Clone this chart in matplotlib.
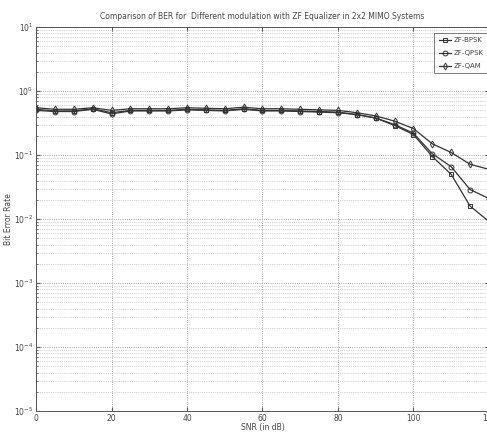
import matplotlib
matplotlib.use('Agg')
import matplotlib.pyplot as plt
from matplotlib.ticker import LogLocator, FixedLocator

# SNR points (dB) and BER values
snr = [0, 5, 10, 15, 20, 25, 30, 35, 40, 45, 50, 55, 60, 65, 70, 75, 80,
       85, 90, 95, 100, 105, 110, 115, 120]
ber_bpsk = [0.52, 0.49, 0.49, 0.53, 0.46, 0.50, 0.50, 0.50, 0.52, 0.51, 0.50, 0.53, 0.50,
            0.50, 0.49, 0.48, 0.47, 0.43, 0.38, 0.29, 0.21, 0.095, 0.050, 0.016, 0.0092]
ber_qpsk = [0.50, 0.48, 0.48, 0.52, 0.44, 0.49, 0.49, 0.49, 0.51, 0.50, 0.49, 0.52, 0.49,
            0.49, 0.48, 0.47, 0.46, 0.43, 0.38, 0.30, 0.22, 0.105, 0.066, 0.029, 0.021]
ber_qam = [0.55, 0.52, 0.52, 0.55, 0.50, 0.53, 0.53, 0.53, 0.55, 0.54, 0.53, 0.56, 0.53,
           0.53, 0.52, 0.51, 0.50, 0.46, 0.41, 0.34, 0.26, 0.15, 0.11, 0.072, 0.060]

x_ticks = [0, 20, 40, 60, 80, 100, 120]
x_ticklabels = ['0', '20', '40', '60', '80', '100', '120']

plt.rcParams['font.family'] = ['Liberation Sans Narrow', 'DejaVu Sans']

fig = plt.figure(figsize=(4.87, 4.37), dpi=100)
fig.patch.set_facecolor('white')
ax = fig.add_axes([0.074, 0.059, 0.930, 0.879])

txt = '#444444'
ax.semilogy(snr, ber_bpsk, '-s', color='#333333', lw=0.9, ms=3.5, mfc='none', mew=0.7, label='ZF-BPSK')
ax.semilogy(snr, ber_qpsk, '-o', color='#333333', lw=0.9, ms=3.5, mfc='none', mew=0.7, label='ZF-QPSK')
ax.semilogy(snr, ber_qam, '-d', color='#333333', lw=0.9, ms=3.5, mfc='none', mew=0.7, label='ZF-QAM')

ax.set_xlim(0, 120)
ax.set_ylim(1e-5, 1e1)
ax.xaxis.set_major_locator(FixedLocator(x_ticks))
ax.set_xticklabels(x_ticklabels)
ax.yaxis.set_major_locator(LogLocator(base=10, numticks=10))
ax.yaxis.set_minor_locator(LogLocator(base=10, subs=range(2, 10), numticks=100))

ax.grid(True, which='major', axis='both', linestyle=':', color='#888888', lw=0.6)
ax.grid(True, which='minor', axis='y', linestyle=':', color='#aaaaaa', lw=0.5)
ax.tick_params(which='both', direction='in', top=True, right=True, labelsize=5.5,
               colors='#555555', labelcolor=txt, length=3, pad=2)
ax.tick_params(which='minor', length=1.5)
for s in ax.spines.values():
    s.set_color('#555555')
    s.set_linewidth(0.7)

ax.set_title('Comparison of BER for  Different modulation with ZF Equalizer in 2x2 MIMO Systems',
             fontsize=5.5, color=txt, pad=6)
ax.set_xlabel('SNR (in dB)', fontsize=5.5, color=txt, labelpad=0)
ax.set_ylabel('Bit Error Rate', fontsize=5.5, color=txt, labelpad=1)

leg = ax.legend(loc='upper left', bbox_to_anchor=(0.872, 0.993), fontsize=5,
                frameon=True, fancybox=False, edgecolor='#444444', borderpad=0.6,
                handlelength=1.8, labelspacing=1.0, handletextpad=0.3)
leg.get_frame().set_linewidth(0.6)
for t in leg.get_texts():
    t.set_color(txt)

fig.savefig('out.png', dpi=100, facecolor='white')
